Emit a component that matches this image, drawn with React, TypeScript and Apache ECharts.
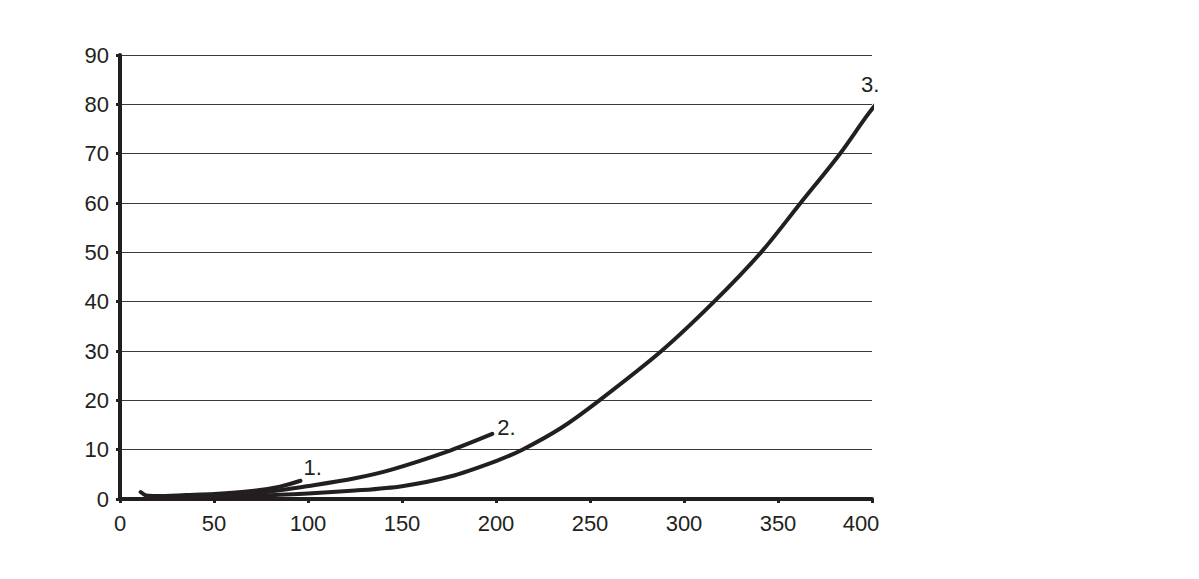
import React, { useEffect, useRef } from "react";
import * as echarts from "echarts";

const xTicks = [0, 50, 100, 150, 200, 250, 300, 350, 400];
const yTicks = [0, 10, 20, 30, 40, 50, 60, 70, 80, 90];

const curve1: [number, number][] = [
  [11, 1.4], [14, 0.7], [20, 0.6], [35, 0.8], [50, 1.0], [70, 1.6], [85, 2.5], [96, 3.7],
];
const curve2: [number, number][] = [
  [14, 0.3], [50, 0.7], [75, 1.3], [103, 2.8], [125, 4.2], [144, 5.9], [174, 9.6], [198, 13.2],
];
const curve3: [number, number][] = [
  [14, 0.1], [50, 0.3], [100, 1.1], [125, 1.7], [150, 2.6], [175, 4.5], [200, 7.7], [214, 10],
  [235, 14.5], [255, 20], [288, 30], [316, 40], [341, 50], [362, 60], [383, 70], [396, 77], [402, 80],
];
const curveNames = ["1.", "2.", "3."];

const INK = "#231f20";
const FONT = "Liberation Sans, Arial, sans-serif";
const FS = 22;

export default function App() {
  const ref = useRef<HTMLDivElement>(null);
  useEffect(() => {
    if (!ref.current) return;
    const chart = echarts.init(ref.current, null, { renderer: "svg" });
    const lineSeries = (data: [number, number][], name: string, offset: number[]) => ({
      type: "line",
      name,
      data,
      smooth: 0.3,
      showSymbol: false,
      symbol: "none",
      lineStyle: { color: INK, width: 4, cap: "round" },
      endLabel: {
        show: true,
        formatter: name,
        color: INK,
        fontSize: FS,
        fontFamily: FONT,
        offset,
      },
      z: 5,
    });
    chart.setOption({
      animation: false,
      backgroundColor: "#ffffff",
      grid: { left: 120, right: 327, top: 55, bottom: 80 },
      xAxis: {
        type: "value",
        min: xTicks[0],
        max: xTicks[xTicks.length - 1],
        interval: 50,
        splitLine: { show: false },
        axisLine: { show: true, onZero: false, lineStyle: { color: INK, width: 4 } },
        axisTick: { show: true, length: 4, lineStyle: { color: INK, width: 3 } },
        axisLabel: {
          color: INK,
          fontSize: FS,
          fontFamily: FONT,
          margin: 13,
          formatter: (v: number) => (v === 400 ? "{last|" + v + "}" : String(v)),
          rich: { last: { fontSize: FS, fontFamily: FONT, color: INK, padding: [0, 22, 0, 0] } },
        },
      },
      yAxis: {
        type: "value",
        min: yTicks[0],
        max: yTicks[yTicks.length - 1],
        interval: 10,
        splitLine: { show: true, lineStyle: { color: "#3a3a3a", width: 1.2 } },
        axisLine: { show: true, onZero: false, lineStyle: { color: INK, width: 4 } },
        axisTick: { show: true, length: 4, lineStyle: { color: INK, width: 3 } },
        axisLabel: { color: INK, fontSize: FS, fontFamily: FONT, margin: 11 },
      },
      series: [
        lineSeries(curve1, curveNames[0], [-5, -13]),
        lineSeries(curve2, curveNames[1], [-3, -6]),
        lineSeries(curve3, curveNames[2], [-21, -22]),
      ],
    });
    return () => chart.dispose();
  }, []);
  return (
    <div
      ref={ref}
      style={{ position: "fixed", left: 0, top: 0, width: 1199, height: 579, background: "#fff" }}
    />
  );
}
